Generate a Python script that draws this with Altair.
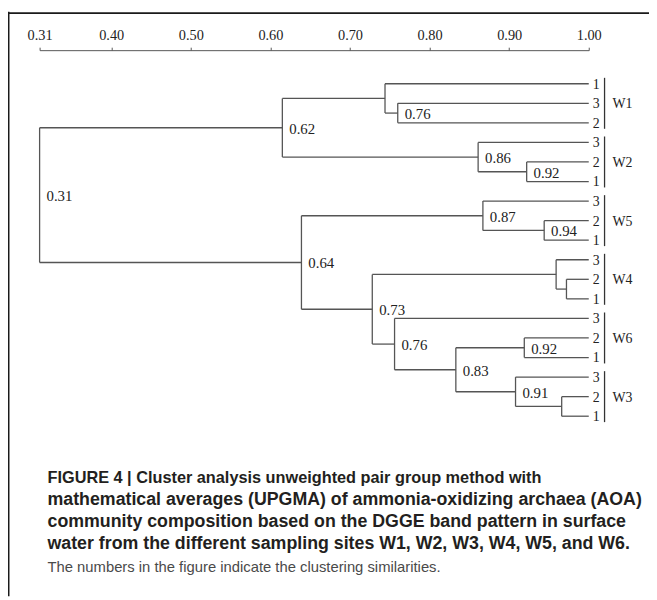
import altair as alt
import pandas as pd

# ---- data ----
leaf_site = ["W1", "W1", "W1", "W2", "W2", "W2", "W5", "W5", "W5",
             "W4", "W4", "W4", "W6", "W6", "W6", "W3", "W3", "W3"]
leaf_rep = ["1", "3", "2", "3", "2", "1", "3", "2", "1",
            "3", "2", "1", "3", "2", "1", "3", "2", "1"]

# merges (node ids 18..34 in order); children refer to leaf index or earlier node id
merge_a = [1, 0, 4, 3, 19, 7, 6, 10, 9, 13, 16, 15, 27, 12, 26, 24, 22]
merge_b = [2, 18, 5, 20, 21, 8, 23, 11, 25, 14, 17, 28, 29, 30, 31, 32, 33]
merge_sim = [0.760, 0.744, 0.922, 0.861, 0.615, 0.944, 0.867, 0.972, 0.959,
             0.919, 0.966, 0.908, 0.833, 0.756, 0.728, 0.639, 0.310]
merge_label = ["0.76", "", "0.92", "0.86", "0.62", "0.94", "0.87", "", "",
               "0.92", "", "0.91", "0.83", "0.76", "0.73", "0.64", "0.31"]

tick_values = [0.31, 0.40, 0.50, 0.60, 0.70, 0.80, 0.90, 1.00]

caption_head = ["FIGURE 4 | Cluster analysis unweighted pair group method with"]
caption_bold = [
    "mathematical averages (UPGMA) of ammonia-oxidizing archaea (AOA)",
    "community composition based on the DGGE band pattern in surface",
    "water from the different sampling sites W1, W2, W3, W4, W5, and W6.",
]
caption_note = ["The numbers in the figure indicate the clustering similarities."]

# ---- dendrogram layout ----
n_leaf = len(leaf_site)
pos = list(range(n_leaf))
sim = [1.0] * n_leaf
for a, b, s in zip(merge_a, merge_b, merge_sim):
    pos.append((pos[a] + pos[b]) / 2)
    sim.append(s)

segs = []
for a, b, s in zip(merge_a, merge_b, merge_sim):
    segs.append(dict(x=s, x2=s, y=pos[a], y2=pos[b]))
    segs.append(dict(x=s, x2=sim[a], y=pos[a], y2=pos[a]))
    segs.append(dict(x=s, x2=sim[b], y=pos[b], y2=pos[b]))
seg_df = pd.DataFrame(segs)

node_df = pd.DataFrame({
    "x": merge_sim,
    "y": [pos[n_leaf + k] for k in range(len(merge_sim))],
    "label": merge_label,
})
node_df = node_df[node_df["label"] != ""]

leaf_df = pd.DataFrame({"x": [1.0] * n_leaf, "y": list(range(n_leaf)), "rep": leaf_rep})

groups = []
for site in dict.fromkeys(leaf_site):
    idx = [i for i, s in enumerate(leaf_site) if s == site]
    groups.append(dict(site=site, x=1.0, y0=min(idx), y1=max(idx), ym=(min(idx) + max(idx)) / 2))
group_df = pd.DataFrame(groups)

head_df = pd.DataFrame({"idx": [0], "text": caption_head})
cap_df = pd.DataFrame({"idx": [1, 2, 3], "text": caption_bold})
note_df = pd.DataFrame({"idx": [4], "text": caption_note})

# ---- scales ----
x_scale = alt.Scale(domain=[0.31, 1.0], range=[32, 588], zero=False, nice=False)
y_scale = alt.Scale(domain=[0, 17], range=[34, 370.6], zero=False, nice=False)
cap_scale = alt.Scale(domain=[0, 4], range=[433, 523], zero=False, nice=False)

SERIF = "Liberation Serif"
SANS = "Liberation Sans"
LINE = "#555555"
TXT = "#222222"


def top_axis():
    return alt.Axis(orient="top", values=tick_values, format=".2f", grid=False,
                    domainColor=LINE, tickColor=LINE, tickSize=3, labelPadding=5,
                    labelFont=SERIF, labelFontSize=14.5, labelColor=TXT,
                    labelFlush=False, labelOverlap=False, title=None)


def xq(field):
    return alt.X(field, type="quantitative", scale=x_scale, axis=top_axis())


def yq(field, scale):
    return alt.Y(field, type="quantitative", scale=scale, axis=None)


segments = alt.Chart(seg_df).mark_rule(color=LINE, strokeWidth=1.3).encode(
    x=xq("x"), x2="x2:Q", y=yq("y", y_scale), y2="y2:Q",
)

node_labels = alt.Chart(node_df).mark_text(
    align="left", baseline="middle", dx=7, dy=1, font=SERIF, fontSize=15, color=TXT
).encode(x=xq("x"), y=yq("y", y_scale), text="label:N")

leaf_labels = alt.Chart(leaf_df).mark_text(
    align="left", baseline="middle", dx=4, dy=1, font=SERIF, fontSize=14, color=TXT
).encode(x=xq("x"), y=yq("y", y_scale), text="rep:N")

group_bars = alt.Chart(group_df).mark_rule(
    color="#333333", strokeWidth=1.3, xOffset=16, yOffset=-6, y2Offset=6
).encode(x=xq("x"), y=yq("y0", y_scale), y2="y1:Q")

group_labels = alt.Chart(group_df).mark_text(
    align="left", baseline="middle", dx=24, dy=1, font=SERIF, fontSize=14, color=TXT
).encode(x=xq("x"), y=yq("ym", y_scale), text="site:N")

head = alt.Chart(head_df).mark_text(
    align="left", baseline="middle", font=SANS, fontSize=16.5,
    fontWeight="bold", color="#231f20"
).encode(x=alt.value(40), y=yq("idx", cap_scale), text="text:N")

caption = alt.Chart(cap_df).mark_text(
    align="left", baseline="middle", font=SANS, fontSize=18,
    fontWeight="bold", color="#231f20"
).encode(x=alt.value(40), y=yq("idx", cap_scale), text="text:N")

note = alt.Chart(note_df).mark_text(
    align="left", baseline="middle", font=SANS, fontSize=15, color="#4a4a4a"
).encode(x=alt.value(40), y=yq("idx", cap_scale), text="text:N")

frame_left = alt.Chart(pd.DataFrame({"k": [0]})).mark_rule(color="#1a1a1a", strokeWidth=2).encode(
    x=alt.value(0.5), y=alt.value(-39), y2=alt.value(553)
)
frame_top = alt.Chart(pd.DataFrame({"k": [0]})).mark_rule(color="#1a1a1a", strokeWidth=2).encode(
    x=alt.value(0), x2=alt.value(649), y=alt.value(-37.5)
)

chart = alt.layer(
    segments, node_labels, leaf_labels, group_bars, group_labels,
    head, caption, note, frame_left, frame_top
).resolve_scale(y="independent").properties(
    width=649, height=553,
    padding={"left": 0, "top": 39, "right": 0, "bottom": 0},
    autosize=alt.AutoSizeParams(type="none"),
    background="white",
).configure_view(strokeWidth=0)

chart.save("out.html", embed_options={"renderer": "svg", "actions": False})
